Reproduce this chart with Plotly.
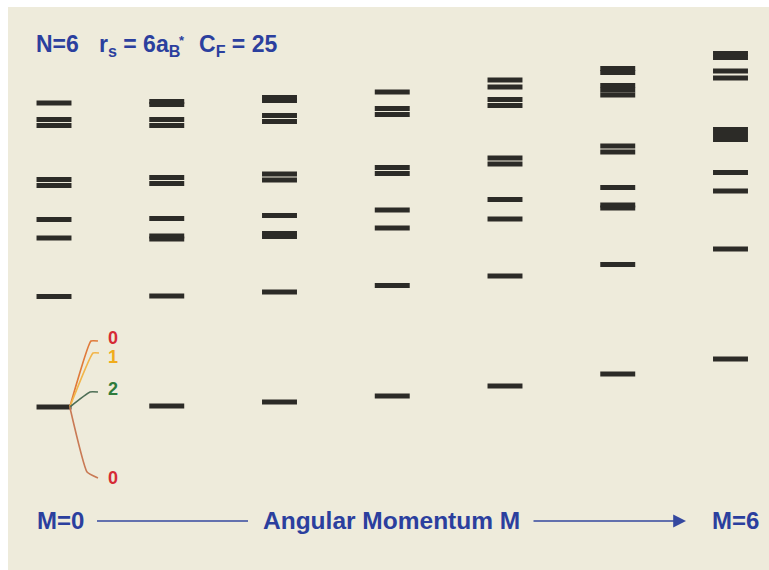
import plotly.graph_objects as go

# ---------------- data (energies in arbitrary units) ----------------
M_values = [0, 1, 2, 3, 4, 5, 6]
levels_M0 = [0.0, 11.05, 16.9, 18.75, 22.15, 22.75, 28.15, 28.75, 30.4]
levels_M1 = [0.1, 11.1, 16.8, 17.1, 18.85, 22.35, 22.95, 28.15, 28.75, 30.25, 30.55]
levels_M2 = [0.5, 11.5, 17.05, 17.35, 19.15, 22.7, 23.3, 28.55, 29.15, 30.65, 30.95]
levels_M3 = [1.1, 12.15, 17.9, 19.7, 23.35, 23.95, 29.25, 29.85, 31.5]
levels_M4 = [2.1, 13.1, 18.8, 20.75, 24.3, 24.9, 30.15, 30.75, 32.0, 32.7]
levels_M5 = [3.3, 14.25, 19.9, 20.2, 21.95, 25.5, 26.1, 31.2, 31.7, 32.15, 33.45, 33.85]
levels_M6 = [4.8, 15.8, 21.6, 23.45, 26.75, 27.25, 27.75, 32.9, 33.6, 34.95, 35.35]
all_levels = [levels_M0, levels_M1, levels_M2, levels_M3, levels_M4, levels_M5, levels_M6]

# splitting of the M=0 ground state
split_labels = ["0", "1", "2", "0"]
split_label_colors = ["#d62a35", "#f0ac1c", "#2e7b3c", "#d62a35"]
split_line_colors = ["#e07a3a", "#f2b54a", "#4d6e55", "#c97a55"]
split_label_E = [6.9, 5.0, 1.8, -7.1]
split_bend_E = [6.6, 5.4, 1.5, -6.5]
split_end_E = [6.6, 5.4, 1.5, -7.1]

header_text = "N=6"
axis_left_label = "M=0"
axis_right_label = "M=6"
axis_title = "Angular Momentum M"

# ---------------- figure ----------------
W, H = 769, 570
ML, MT = 8, 7
half = 0.155
xr = [-0.408, 6.3415]
yr = [-16.3, 40.0]

xs, ys = [], []
for m, lev in zip(M_values, all_levels):
    for e in lev:
        xs += [m - half, m + half, None]
        ys += [e, e, None]

fig = go.Figure()
fig.add_trace(go.Scatter(x=xs, y=ys, mode="lines",
                         line=dict(color="#2c2b27", width=4.8),
                         hoverinfo="skip", showlegend=False))

# splitting lines
x_start = 0.14
x_bend = [0.328, 0.346, 0.319, 0.293]
x_end = [0.39, 0.399, 0.39, 0.39]
for i in range(4):
    fig.add_trace(go.Scatter(
        x=[x_start, x_bend[i], x_end[i]],
        y=[levels_M0[0], split_bend_E[i], split_end_E[i]],
        mode="lines", line=dict(color=split_line_colors[i], width=1.6, shape="spline", smoothing=0.4),
        hoverinfo="skip", showlegend=False))
    fig.add_annotation(x=0.527, y=split_label_E[i], xref="x", yref="y",
                       text="<b>%s</b>" % split_labels[i], showarrow=False,
                       font=dict(family="Liberation Sans, Arial", size=18, color=split_label_colors[i]))

blue = "#2b3f9e"
fnt_head = dict(family="Liberation Sans, Arial", size=23, color=blue)
fnt = dict(family="Liberation Sans, Arial", size=24, color=blue)

def px(p):
    return (p - ML) / (W - ML)

def py(p):
    return (H - p) / (H - MT)

# header
fig.add_annotation(x=px(34), y=py(44), xref="paper", yref="paper", xanchor="left", yanchor="middle",
                   text="<b>%s</b>" % header_text, showarrow=False, font=fnt_head)
fig.add_annotation(x=px(97), y=py(46), xref="paper", yref="paper", xanchor="left", yanchor="middle",
                   text="<b>r<sub>s</sub> = 6a<sub>B</sub></b>", showarrow=False, font=fnt_head)
fig.add_annotation(x=px(182), y=py(40), xref="paper", yref="paper", xanchor="center", yanchor="middle",
                   text="<b>*</b>", showarrow=False, font=dict(family="Liberation Sans, Arial", size=13, color=blue))
fig.add_annotation(x=px(197), y=py(46), xref="paper", yref="paper", xanchor="left", yanchor="middle",
                   text="<b>C<sub>F</sub> = 25</b>", showarrow=False, font=fnt_head)

# bottom axis label
fig.add_annotation(x=px(35), y=py(520), xref="paper", yref="paper", xanchor="left", yanchor="middle",
                   text="<b>%s</b>" % axis_left_label, showarrow=False, font=fnt)
fig.add_annotation(x=px(261), y=py(520), xref="paper", yref="paper", xanchor="left", yanchor="middle",
                   text="<b>%s</b>" % axis_title, showarrow=False, font=dict(fnt, size=24.5))
fig.add_annotation(x=px(710), y=py(520), xref="paper", yref="paper", xanchor="left", yanchor="middle",
                   text="<b>%s</b>" % axis_right_label, showarrow=False, font=fnt)
fig.add_shape(type="line", xref="paper", yref="paper", x0=px(97), x1=px(248), y0=py(521), y1=py(521),
              line=dict(color="#34489f", width=1.6))
fig.add_annotation(x=px(686), y=py(521), ax=-(686 - 532), ay=0, xref="paper", yref="paper",
                   axref="pixel", ayref="pixel", text="", showarrow=True,
                   arrowhead=2, arrowsize=1.6, arrowwidth=1.6, arrowcolor="#34489f")

fig.update_layout(
    width=W, height=H,
    margin=dict(l=ML, r=0, t=MT, b=0, pad=0),
    paper_bgcolor="white", plot_bgcolor="#eeebdb",
    xaxis=dict(range=xr, visible=False, fixedrange=True),
    yaxis=dict(range=yr, visible=False, fixedrange=True),
)
fig.write_html("out.html", config={"displayModeBar": False, "staticPlot": True},
               post_script="document.body.style.margin='0';document.body.style.overflow='hidden';")
